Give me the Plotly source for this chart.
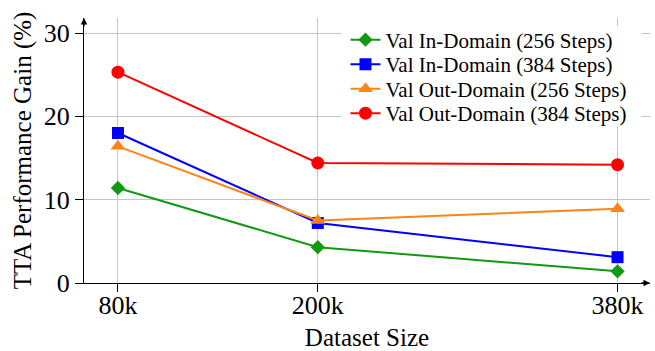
import plotly.graph_objects as go

dataset_sizes = [80, 200, 380]          # thousands of samples
tick_labels = ["80k", "200k", "380k"]
in_256 = [11.4, 4.3, 1.4]
in_384 = [18.0, 7.2, 3.1]
out_256 = [16.4, 7.5, 8.9]
out_384 = [25.3, 14.4, 14.2]
y_ticks = [0, 10, 20, 30]

series = [
    ("Val In-Domain (256 Steps)", in_256, "#119911", "diamond", 11),
    ("Val In-Domain (384 Steps)", in_384, "#0000ff", "square", 12),
    ("Val Out-Domain (256 Steps)", out_256, "#ff8317", "triangle-up", 13),
    ("Val Out-Domain (384 Steps)", out_384, "#ff0000", "circle", 13),
]

font = "Liberation Serif"
legend_rows_px = [40, 64.5, 89, 113.5]  # row centres, px from top
plot_top, plot_bottom = 18, 283

fig = go.Figure()
legend_layouts = {}
for i, (name, vals, col, sym, sz) in enumerate(series):
    lg = "legend" if i == 0 else f"legend{i+1}"
    fig.add_trace(go.Scatter(
        x=dataset_sizes, y=vals, name=name, mode="lines+markers",
        line=dict(color=col, width=2),
        marker=dict(symbol=sym, size=sz, color=col, line=dict(width=0)),
        legend=lg,
    ))
    ypos = (plot_bottom - legend_rows_px[i]) / (plot_bottom - plot_top)
    legend_layouts[lg] = dict(
        x=0.462, y=ypos, xanchor="left", yanchor="middle",
        bgcolor="rgba(255,255,255,0)", borderwidth=0,
        font=dict(family=font, size=21, color="black"),
        itemwidth=30,
    )

fig.update_layout(
    width=655, height=351,
    margin=dict(l=84, r=5, t=18, b=68),
    paper_bgcolor="white", plot_bgcolor="white",
    font=dict(family=font, size=26, color="black"),
    showlegend=True,
    xaxis=dict(
        range=[59.6, 399.5],
        tickmode="array", tickvals=dataset_sizes, ticktext=tick_labels,
        tickfont=dict(size=26), automargin=False, ticklabelstandoff=-9,
        showgrid=True, gridcolor="#c4c4c4", gridwidth=1,
        showline=True, linecolor="black", linewidth=1.3,
        ticks="outside", ticklen=8, tickcolor="black",
        zeroline=False,
        title=dict(text="Dataset Size", font=dict(size=25), standoff=12),
    ),
    yaxis=dict(
        range=[0, 31.8],
        tickmode="array", tickvals=y_ticks,
        tickfont=dict(size=26), automargin=False,
        showgrid=True, gridcolor="#c4c4c4", gridwidth=1,
        showline=True, linecolor="black", linewidth=1.3,
        ticks="outside", ticklen=8, tickcolor="black",
        zeroline=False,
        title=dict(text="TTA Performance Gain (%)", font=dict(size=25), standoff=4),
    ),
    **legend_layouts,
)

# white box behind legend (covers gridlines as in reference)
fig.add_shape(type="rect", xref="paper", yref="paper",
              x0=0.455, x1=0.985, y0=(plot_bottom - 126) / 265, y1=(plot_bottom - 26) / 265,
              fillcolor="white", line=dict(width=0), layer="above")

# axis arrow heads
fig.add_annotation(xref="paper", yref="paper", x=0, y=1.0, ax=0, ay=10,
                   showarrow=True, arrowhead=2, arrowsize=1, arrowwidth=1.3,
                   arrowcolor="black", text="")
fig.add_annotation(xref="paper", yref="paper", x=1.0, y=0, ax=-10, ay=0,
                   showarrow=True, arrowhead=2, arrowsize=1, arrowwidth=1.3,
                   arrowcolor="black", text="")

fig.write_html("out.html")
